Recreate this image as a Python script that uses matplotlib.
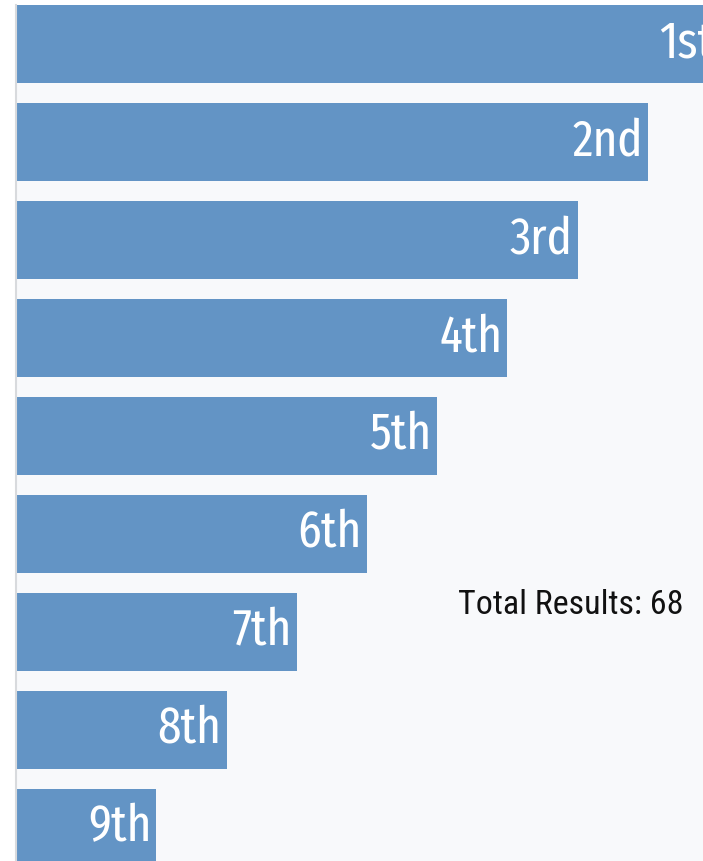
import matplotlib
matplotlib.use("Agg")
import matplotlib.pyplot as plt

categories = ["1st", "2nd", "3rd", "4th", "5th", "6th", "7th", "8th", "9th"]
values = [10, 9, 8, 7, 6, 5, 4, 3, 2]
total_label = "Total Results: 68"

W, H = 703, 861
fig = plt.figure(figsize=(W / 100, H / 100), dpi=100)
fig.patch.set_facecolor("white")

ax = fig.add_axes([16 / W, 0, 1 - 16 / W, 1 - 5 / H])
ax.set_facecolor("#f8f9fb")

y = list(range(len(categories)))
ax.barh(y, values, height=0.8, color="#6394c5", edgecolor="none")

for yi, v, lab in zip(y, values, categories):
    ax.annotate(lab, xy=(v, yi), xytext=(-5, 1), textcoords="offset pixels",
                ha="right", va="center", color="white", fontsize=37,
                family=["Fira Sans Extra Condensed", "DejaVu Sans"], fontweight="normal",
                annotation_clip=False, clip_on=True)

# pixels per unit ~70.2, axis spans 687 px
ax.set_xlim(0, 687 / 70.2)
ax.set_ylim(8.34, -0.4)

ax.text(0.644, 0.299, total_label, transform=ax.transAxes, ha="left", va="center",
        fontsize=24.5, color="#111111", family=["Roboto Condensed", "DejaVu Sans"])

for s in ["top", "right", "bottom"]:
    ax.spines[s].set_visible(False)
ax.spines["left"].set_color("#d8dadd")
ax.spines["left"].set_linewidth(1.5)
ax.set_xticks([])
ax.set_yticks([])

fig.savefig("out.png", dpi=100, facecolor=fig.get_facecolor())
